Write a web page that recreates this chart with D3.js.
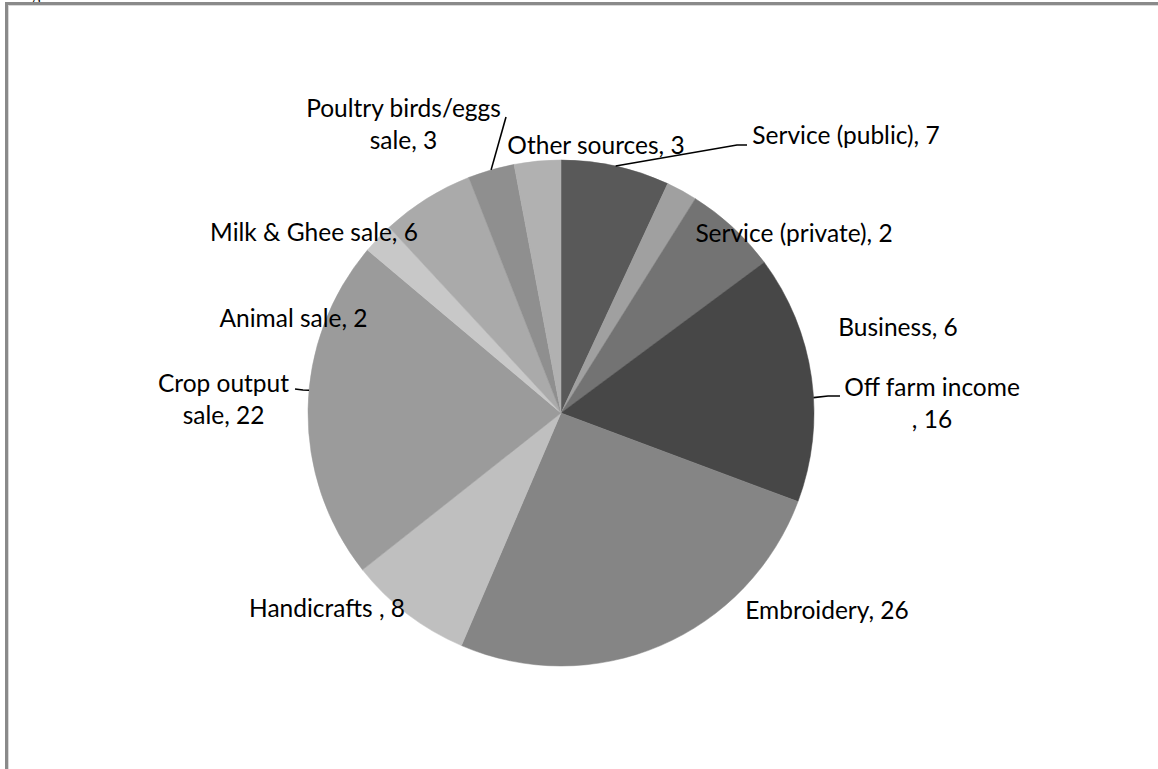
<!doctype html>
<html lang="en">
<head>
  <meta charset="utf-8">
  <style>
    body { margin: 0; background: #fff; }
    svg { display: block; }
    .lbl { font-family: Lato, "Open Sans", sans-serif; font-size: 24.5px; fill: #000; }
    .leader { fill: none; stroke: #000; stroke-width: 1.6px; }
  </style>
</head>
<body>
<script src="https://d3js.org/d3.v7.min.js"></script>
<script>
// data, clockwise from 12 o'clock
var categories = ["Service (public)", "Service (private)", "Business", "Off farm income",
  "Embroidery", "Handicrafts", "Crop output sale", "Animal sale", "Milk & Ghee sale",
  "Poultry birds/eggs sale", "Other sources"];
var values = [7, 2, 6, 16, 26, 8, 22, 2, 6, 3, 3];
var greys = ["#595959", "#a0a0a0", "#737373", "#474747", "#858585", "#bfbfbf",
  "#9b9b9b", "#c8c8c8", "#aaaaaa", "#8f8f8f", "#b1b1b1"];

// how Excel wrapped the labels
var labelLines = [
  ["Service (public), 7"], ["Service (private), 2"], ["Business, 6"], ["Off farm income", ", 16"],
  ["Embroidery, 26"], ["Handicrafts , 8"], ["Crop output", "sale, 22"], ["Animal sale, 2"],
  ["Milk & Ghee sale, 6"], ["Poultry birds/eggs", "sale, 3"], ["Other sources, 3"]
];

var width = 1158, height = 769;
var cx = 561, cy = 413, radius = 253;
var lineH = 31.5;

// label centre (dx) and first baseline (dy), relative to the pie centre
var labelPos = [
  [285, -269], [233, -171], [337, -77], [371, -17],
  [266, 206], [-234, 204], [-337.5, -21], [-267.5, -86],
  [-247, -172], [-157.5, -296], [35, -259]
];
// leader lines: bend points relative to the centre (null = no leader)
var leaders = [
  [[176, -268], [186, -268]], null, null, [[267, -17], [279, -17]],
  null, null, [[-258, -23], [-266, -24]], null,
  null, [[-55, -296]], null
];

var svg = d3.select("body").append("svg")
  .attr("width", width)
  .attr("height", height);

// frame of the figure box
svg.append("text")
  .attr("x", 19).attr("y", 0)
  .style("font-family", "Liberation Serif")
  .style("font-size", "16px")
  .text("Figure");
svg.append("rect")
  .attr("x", 6.5).attr("y", 3.5)
  .attr("width", width + 20).attr("height", height + 20)
  .attr("fill", "none").attr("stroke", "#8a8a8a").attr("stroke-width", 3);
svg.append("rect")
  .attr("x", 8.5).attr("y", 5.5)
  .attr("width", width + 20).attr("height", height + 20)
  .attr("fill", "none").attr("stroke", "#d9d9d9").attr("stroke-width", 1);

var pie = d3.pie().sort(null).value(function(d) { return d; });
var arcs = pie(values);
var arc = d3.arc().innerRadius(0).outerRadius(radius);

var g = svg.append("g").attr("transform", "translate(" + cx + "," + cy + ")");

g.selectAll("path.slice")
  .data(arcs).enter()
  .append("path")
  .attr("class", "slice")
  .attr("d", arc)
  .attr("fill", function(d, i) { return greys[i]; })
  .attr("stroke", function(d, i) { return greys[i]; })
  .attr("stroke-width", 0.5);

function edge(a) { return [radius * Math.sin(a), -radius * Math.cos(a)]; }

// leaders: start on the slice rim, at the mid angle or the point nearest the label
g.selectAll("path.leader")
  .data(arcs.filter(function(d, i) { return leaders[i]; })).enter()
  .append("path")
  .attr("class", "leader")
  .attr("d", function(d) {
    var pts = leaders[d.index];
    var end = pts[pts.length - 1];
    var a = Math.atan2(end[0], -end[1]);
    if (a < 0) a += 2 * Math.PI;
    if (a < d.startAngle || a > d.endAngle) a = (d.startAngle + d.endAngle) / 2;
    return d3.line()([edge(a)].concat(pts));
  });

var labels = g.selectAll("text.lbl")
  .data(arcs).enter()
  .append("text")
  .attr("class", "lbl")
  .attr("text-anchor", "middle")
  .attr("x", function(d) { return labelPos[d.index][0]; })
  .attr("y", function(d) { return labelPos[d.index][1]; });

labels.selectAll("tspan")
  .data(function(d) { return labelLines[d.index]; }).enter()
  .append("tspan")
  .attr("x", function() { return labelPos[d3.select(this.parentNode).datum().index][0]; })
  .attr("dy", function(t, j) { return j === 0 ? 0 : lineH; })
  .text(function(t) { return t; });
</script>
</body>
</html>
